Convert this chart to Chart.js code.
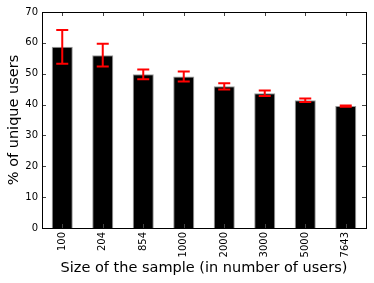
<!DOCTYPE html>
<html>
<head>
<meta charset="utf-8">
<script src="https://cdn.jsdelivr.net/npm/chart.js@4.4.0/dist/chart.umd.min.js"></script>
<style>
  html, body { margin: 0; padding: 0; background: #fff; }
  #wrap { width: 374px; height: 283px; }
</style>
</head>
<body>
<div id="wrap"><canvas id="myChart" width="374" height="283"></canvas></div>
<script>
// sample sizes and % of unique users
var xSizes = ["100", "204", "854", "1000", "2000", "3000", "5000", "7643"];
var yUnique = [58.7, 56.0, 49.8, 49.1, 45.9, 43.7, 41.4, 39.5];
var yErr = [5.5, 3.7, 1.6, 1.6, 1.0, 0.9, 0.6, 0.2];
var yTicks = [0, 10, 20, 30, 40, 50, 60, 70];

var fontName = "'DejaVu Sans', sans-serif";

// red error bars + inward ticks on all four sides (matplotlib look)
var extras = {
    id: "extras",
    afterDatasetsDraw: function (chart) {
        var ctx = chart.ctx;
        var xs = chart.scales.x, ys = chart.scales.y;
        var area = chart.chartArea;
        ctx.save();
        ctx.strokeStyle = "red";
        ctx.lineWidth = 2;
        for (var i = 0; i < yUnique.length; i++) {
            var cx = xs.getPixelForValue(i);
            var top = ys.getPixelForValue(yUnique[i] + yErr[i]);
            var bot = ys.getPixelForValue(yUnique[i] - yErr[i]);
            ctx.beginPath();
            ctx.moveTo(cx, top); ctx.lineTo(cx, bot);
            ctx.moveTo(cx - 6, top); ctx.lineTo(cx + 6, top);
            ctx.moveTo(cx - 6, bot); ctx.lineTo(cx + 6, bot);
            ctx.stroke();
        }
        // ticks
        ctx.strokeStyle = "#444";
        ctx.lineWidth = 1;
        ctx.beginPath();
        for (var j = 0; j < xSizes.length; j++) {
            var px = Math.round(xs.getPixelForValue(j)) + 0.5;
            ctx.moveTo(px, area.top); ctx.lineTo(px, area.top + 4);
            ctx.moveTo(px, area.bottom); ctx.lineTo(px, area.bottom - 4);
        }
        for (var k = 0; k < yTicks.length; k++) {
            var py = Math.round(ys.getPixelForValue(yTicks[k])) + 0.5;
            ctx.moveTo(area.left, py); ctx.lineTo(area.left + 4, py);
            ctx.moveTo(area.right, py); ctx.lineTo(area.right - 4, py);
        }
        ctx.stroke();
        // frame
        ctx.strokeStyle = "#000";
        ctx.lineWidth = 1;
        ctx.strokeRect(Math.round(area.left) + 0.5, Math.round(area.top) + 0.5,
            Math.round(area.right - area.left), Math.round(area.bottom - area.top));
        ctx.restore();
    }
};

new Chart("myChart", {
    type: "bar",
    data: {
        labels: xSizes,
        datasets: [{
            data: yUnique,
            backgroundColor: "#000",
            borderColor: "#999",
            borderWidth: 1,
            categoryPercentage: 1.0,
            barPercentage: 0.52
        }]
    },
    options: {
        responsive: false,
        animation: false,
        layout: { padding: { top: 12, right: 8, left: 0, bottom: 0 } },
        plugins: {
            legend: { display: false },
            tooltip: { enabled: false }
        },
        scales: {
            x: {
                grid: { display: false, drawTicks: false },
                border: { display: false },
                ticks: {
                    color: "#000",
                    font: { family: fontName, size: 10 },
                    maxRotation: 90,
                    minRotation: 90,
                    padding: 4
                },
                title: {
                    display: true,
                    text: "Size of the sample (in number of users)",
                    color: "#000",
                    font: { family: fontName, size: 14.5 },
                    padding: { top: 4, bottom: 6 }
                },
                afterFit: function (s) { s.height = 55; }
            },
            y: {
                min: 0,
                max: 70,
                grid: { display: false, drawTicks: false },
                border: { display: false },
                ticks: {
                    color: "#000",
                    font: { family: fontName, size: 10 },
                    stepSize: 10,
                    padding: 4
                },
                title: {
                    display: true,
                    text: "% of unique users",
                    color: "#000",
                    font: { family: fontName, size: 14.5 },
                    padding: { top: 6, bottom: 0 }
                },
                afterFit: function (s) { s.width = 42; }
            }
        }
    },
    plugins: [extras]
});
</script>
</body>
</html>
